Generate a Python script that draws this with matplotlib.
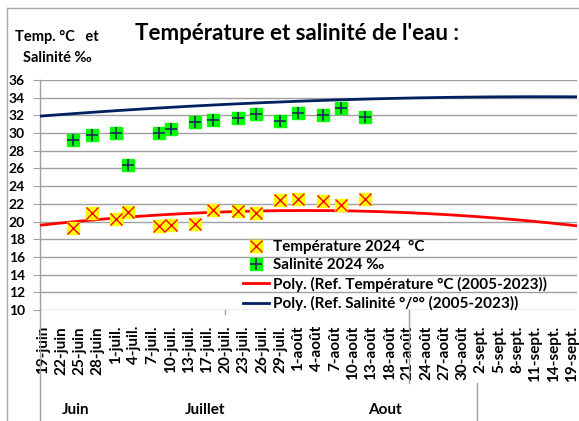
import numpy as np
import matplotlib
matplotlib.use('Agg')
import matplotlib.pyplot as plt
from matplotlib.lines import Line2D
from matplotlib.legend_handler import HandlerTuple
import matplotlib.transforms as mtransforms

plt.rcParams['font.family'] = ['Lato', 'DejaVu Sans']
plt.rcParams['font.weight'] = 'bold'

# ---- data ----
date_labels = ['19-juin', '22-juin', '25-juin', '28-juin', '1-juil.', '4-juil.', '7-juil.',
               '10-juil.', '13-juil.', '17-juil.', '20-juil.', '23-juil.', '26-juil.', '29-juil.',
               '1-août', '4-août', '7-août', '10-août', '13-août', '18-août', '21-août', '24-août',
               '27-août', '30-août', '2-sept.', '5-sept.', '8-sept.', '11-sept.', '14-sept.', '19-sept.']
month_labels = ['Juin', 'Juillet', 'Aout']

sample_idx = [5, 8, 12, 14, 19, 21, 25, 28, 32, 35, 39, 42, 46, 49, 53]
temp_2024 = [19.3, 21.0, 20.3, 21.1, 19.5, 19.6, 19.7, 21.3, 21.2, 21.0, 22.4, 22.6, 22.3, 21.9, 22.6]
sal_2024 = [29.2, 29.8, 30.0, 26.4, 30.0, 30.5, 31.3, 31.5, 31.7, 32.2, 31.4, 32.3, 32.0, 32.8, 31.8]

ref_temp_x = [-0.5, 30.75, 39.0, 63.6, 87.5]
ref_temp = [19.57, 21.11, 21.3, 20.8, 19.57]
ref_sal_x = [-0.5, 29.1, 42.3, 62.0, 87.5]
ref_sal = [31.93, 33.17, 33.6, 34.04, 34.08]

# ---- figure ----
W, H = 579, 421
fig = plt.figure(figsize=(W / 100, H / 100), dpi=100)
ax = fig.add_axes([40 / W, 1 - 310 / H, 537 / W, 230 / H])

cat_w = 6.08
xmin = -0.5
xmax = xmin + 537 / cat_w
ax.set_xlim(xmin, xmax)
ax.set_ylim(10, 36)

# trendlines (polynomial order 2)
xs = np.linspace(xmin, 87.6, 200)
pt = np.polyfit(ref_temp_x, ref_temp, 2)
ps = np.polyfit(ref_sal_x, ref_sal, 2)
ax.plot(xs, np.polyval(pt, xs), color='#FF0000', lw=2.0, zorder=3)
ax.plot(xs, np.polyval(ps, xs), color='#002060', lw=2.0, zorder=3)

# markers
ax.plot(sample_idx, temp_2024, ls='none', marker='s', ms=8.6, mfc='#FFFF00', mec='#FFFF00', zorder=4)
ax.plot(sample_idx, temp_2024, ls='none', marker='x', ms=8.0, mec='#FF0000', mew=1.0, zorder=5)
ax.plot(sample_idx, sal_2024, ls='none', marker='s', ms=8.8, mfc='#00FF00', mec='#00FF00', zorder=4)
ax.plot(sample_idx, sal_2024, ls='none', marker='+', ms=8.5, mec='#1F2A5A', mew=1.2, zorder=5)

# grid & axes
ax.set_yticks(np.arange(10, 37, 2))
ax.yaxis.grid(True, color='#A0A0A0', lw=1.0, zorder=0)
ax.set_axisbelow(True)
for s in ['top', 'right', 'bottom']:
    ax.spines[s].set_visible(False)
ax.spines['left'].set_color('#A0A0A0')
ax.spines['left'].set_linewidth(1.0)
ax.tick_params(axis='y', length=5, color='#A0A0A0', pad=6, labelsize=10)
for t in ax.get_yticklabels():
    t.set_fontweight('bold')

ax.set_xticks(np.arange(len(date_labels)) * 3)
ax.set_xticklabels(date_labels, rotation=90, fontsize=11, fontweight='bold',
                   rotation_mode='anchor', ha='right', va='center')
ax.tick_params(axis='x', length=0, pad=11.5)

# left axis line extends down through category labels
tr = mtransforms.blended_transform_factory(ax.transData, fig.transFigure)
fig.add_artist(Line2D([40 / W, 40 / W], [0, 1 - 310 / H], color='#A0A0A0', lw=1.0))
# group separators of the multi-level category axis
fig.add_artist(Line2D([30, 30], [1 - 310 / H, 1 - 314 / H], color='#A0A0A0', lw=1.0, transform=tr))
fig.add_artist(Line2D([60.2, 60.2], [1 - 310 / H, 1 - 383 / H], color='#A0A0A0', lw=1.0, transform=tr))
fig.add_artist(Line2D([71.3, 71.3], [1 - 383 / H, 0], color='#A0A0A0', lw=1.0, transform=tr))

# chart border (partially cropped)
fig.add_artist(Line2D([7 / W, 7 / W], [0, 1 - 8 / H], color='#A6A6A6', lw=1.0))
fig.add_artist(Line2D([7 / W, 1], [1 - 8 / H, 1 - 8 / H], color='#A6A6A6', lw=1.0))

# month labels
for lab, xc in zip(month_labels, [76, 205, 385]):
    fig.text(xc / W, 1 - 410 / H, lab, ha='center', va='center', fontsize=11, fontweight='bold')

# titles
fig.text(297 / W, 1 - 33 / H, "Température et salinité de l'eau :", ha='center', va='center',
         fontsize=16, fontweight='bold')
fig.text(57 / W, 1 - 37 / H, "Temp. °C   et", ha='center', va='center', fontsize=10.5, fontweight='bold')
fig.text(57 / W, 1 - 58 / H, "Salinité ‰", ha='center', va='center', fontsize=10.5, fontweight='bold')

# legend
h_temp = (Line2D([], [], ls='none', marker='s', ms=8.6, mfc='#FFFF00', mec='#FFFF00'),
          Line2D([], [], ls='none', marker='x', ms=8.0, mec='#FF0000', mew=1.0))
h_sal = (Line2D([], [], ls='none', marker='s', ms=8.8, mfc='#00FF00', mec='#00FF00'),
         Line2D([], [], ls='none', marker='+', ms=8.5, mec='#1F2A5A', mew=1.2))
h_rt = Line2D([], [], color='#FF0000', lw=2.0)
h_rs = Line2D([], [], color='#002060', lw=2.0)
leg = ax.legend([h_temp, h_sal, h_rt, h_rs],
                ['Température 2024  °C', 'Salinité 2024 ‰',
                 'Poly. (Ref. Température °C (2005-2023))',
                 'Poly. (Ref. Salinité °/°° (2005-2023))'],
                handler_map={tuple: HandlerTuple(ndivide=1, pad=0)},
                loc='upper left', bbox_to_anchor=(243 / W, 1 - 240 / H),
                bbox_transform=fig.transFigure, frameon=False,
                prop={'size': 11, 'weight': 'bold'}, handlelength=1.7,
                handletextpad=0.25, labelspacing=0.28, borderpad=0, borderaxespad=0)

fig.savefig('out.png', dpi=100)
